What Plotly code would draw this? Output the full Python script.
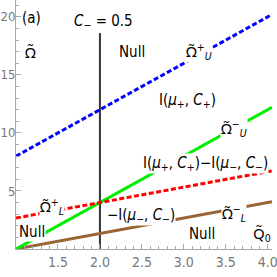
import plotly.graph_objects as go

# Data
x_vals = [1.0, 2.0, 3.0, 4.0, 4.05]
omega_U_plus = [8.0, 12.0, 16.0, 20.0, 20.2]      # blue dashed
omega_U_minus = [0.0, 4.0, 8.0, 12.0, 12.2]       # green solid
omega_L_plus = [2.67, 4.0, 5.33, 6.67, 6.73]      # red dashed
omega_L_minus = [0.0, 1.33, 2.67, 4.0, 4.07]      # brown solid
c_minus_x = [2.0, 2.0]
c_minus_y = [0.0, 18.6]

x_ticks = [1.5, 2.0, 2.5, 3.0, 3.5, 4.0]
x_ticktext = ["1.5", "2.0", "2.5", "3.0", "3.5", "4.0"]
y_ticks = [5, 10, 15, 20]
y_ticktext = ["5", "10", "15", "20"]

FONT = "Liberation Sans Narrow, DejaVu Sans Condensed, Arial, sans-serif"
OM = "<span style='font-family:Noto Sans'>Ω̃</span>"
QT = "<span style='font-family:Noto Sans'>Q̃</span>"

fig = go.Figure()
fig.add_trace(go.Scatter(x=c_minus_x, y=c_minus_y, mode="lines",
                         line=dict(color="#333333", width=2)))
fig.add_trace(go.Scatter(x=x_vals, y=omega_L_minus, mode="lines",
                         line=dict(color="#996633", width=3)))
fig.add_trace(go.Scatter(x=x_vals, y=omega_U_minus, mode="lines",
                         line=dict(color="#00ee00", width=3)))
fig.add_trace(go.Scatter(x=x_vals, y=omega_L_plus, mode="lines",
                         line=dict(color="#ff0000", width=3, dash="5px,2.5px")))
fig.add_trace(go.Scatter(x=x_vals, y=omega_U_plus, mode="lines",
                         line=dict(color="#0000ff", width=3, dash="5px,2.5px")))

labels = [
    ("(a)", 1.18, 19.9, False),
    (OM, 1.17, 17.0, False),
    ("Null", 2.38, 17.0, False),
    ("<i>C</i><sub>−</sub> = 0.5", 2.04, 19.6, False),
    (OM + "<sup>+</sup><sub><i>U</i></sub>", 3.18, 17.0, True),
    ("I(<i>μ</i><sub>+</sub>, <i>C</i><sub>+</sub>)", 3.04, 12.8, False),
    (OM + "<sup>−</sup><sub><i>U</i></sub>", 3.6, 10.4, True),
    ("I(<i>μ</i><sub>+</sub>, <i>C</i><sub>+</sub>)−I(<i>μ</i><sub>−</sub>, <i>C</i><sub>−</sub>)", 3.26, 7.4, True),
    (OM + "<sup>+</sup><sub><i>L</i></sub>", 1.43, 3.7, True),
    ("Null", 1.19, 1.5, True),
    ("−I(<i>μ</i><sub>−</sub>, <i>C</i><sub>−</sub>)", 2.49, 2.9, True),
    (OM + "<sup>−</sup><sub><i>L</i></sub>", 3.6, 3.1, True),
    ("Null", 3.21, 1.3, False),
    (QT + "<sub>0</sub>", 3.93, 1.3, False),
]
for text, ax, ay, bg in labels:
    fig.add_annotation(x=ax, y=ay, xref="x", yref="y", text=text, showarrow=False,
                       font=dict(family=FONT, size=15, color="black"),
                       bgcolor="white" if bg else "rgba(0,0,0,0)", borderpad=0)

axis_common = dict(showgrid=False, zeroline=False, showline=True, linecolor="#aaaaaa",
                   linewidth=1, ticks="inside", ticklen=5, tickcolor="#aaaaaa",
                   automargin=False, ticklabeloverflow="allow")

fig.update_layout(
    width=277, height=277,
    margin=dict(l=16, r=5, t=0, b=28),
    paper_bgcolor="white", plot_bgcolor="white",
    showlegend=False,
    xaxis=dict(range=[1.0, 4.05], tickvals=x_ticks, ticktext=x_ticktext,
               minor=dict(ticks="inside", dtick=0.1, ticklen=3, tickcolor="#aaaaaa"),
               tickfont=dict(family=FONT, size=14, color="#777777"),
               **axis_common),
    yaxis=dict(range=[0, 21.45], tickvals=y_ticks, ticktext=y_ticktext,
               ticklabelstandoff=-3,
               minor=dict(ticks="inside", dtick=1, ticklen=3, tickcolor="#aaaaaa"),
               tickfont=dict(family=FONT, size=13, color="#777777"),
               **axis_common),
)

fig.write_html("out.html", config={"displayModeBar": False},
               post_script="document.body.style.margin='0';document.body.style.padding='0';")
